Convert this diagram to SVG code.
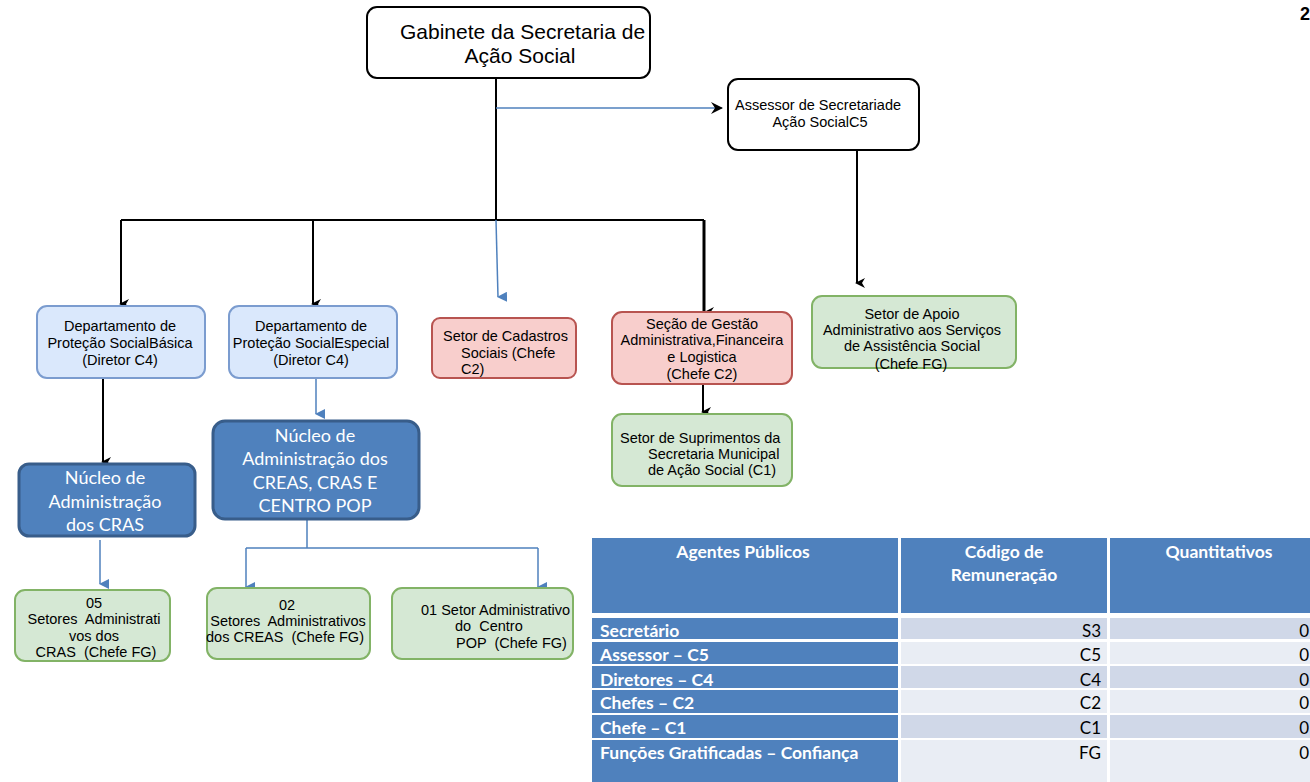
<svg xmlns="http://www.w3.org/2000/svg" width="1310" height="782" viewBox="0 0 1310 782">
<defs>
<marker id="ab" markerWidth="10" markerHeight="10" refX="5" refY="8" orient="auto" markerUnits="userSpaceOnUse" viewBox="0 0 10 10"><path d="M0,0 L5,3 L10,0 L5,10 Z" fill="#000"/></marker>
<marker id="abB" markerWidth="10" markerHeight="10" refX="5" refY="9" orient="auto" markerUnits="userSpaceOnUse" viewBox="0 0 10 10"><path d="M0,0 L10,0 L5,10 Z" fill="#4F81BD"/></marker>
<marker id="abK" markerWidth="12" markerHeight="12" refX="6" refY="10" orient="auto" markerUnits="userSpaceOnUse" viewBox="0 0 12 12"><path d="M0,0 L6,4 L12,0 L6,12 Z" fill="#000"/></marker>
<marker id="ar" markerWidth="12" markerHeight="12" refX="11" refY="6" orient="auto" markerUnits="userSpaceOnUse" viewBox="0 0 12 12"><path d="M0,0 L12,6 L0,12 L4,6 Z" fill="#000"/></marker>
</defs>
<style>
.t{font-family:"Liberation Sans",Arial,sans-serif;font-size:14.5px;fill:#000}
.c{text-anchor:middle}
.blue{fill:#dae8fc;stroke:#7b9ccf;stroke-width:2}
.red{fill:#f8cecc;stroke:#b85450;stroke-width:2}
.green{fill:#d5e8d4;stroke:#82b366;stroke-width:2}
.dark{fill:#4f81bd;stroke:#385d8a;stroke-width:3}
.plain{fill:#fff;stroke:#000;stroke-width:2}
.k{stroke:#000;stroke-width:2;fill:none}
.b{stroke:#4f81bd;stroke-width:1.5;fill:none}
.n{font-family:Lato,"Open Sans",sans-serif;font-size:18px;fill:#fff;text-anchor:middle}
.th{font-family:Lato,"Open Sans",sans-serif;font-size:17.5px;font-weight:bold;fill:#fff}
.tv{font-family:Lato,"Open Sans",sans-serif;font-size:17px;fill:#000;text-anchor:end}
.hd{fill:#4f81bd}
.d1{fill:#d0d8e8}
.d2{fill:#e9edf4}
</style>
<rect width="1310" height="782" fill="#fff"/>
<text x="1300" y="20" style="font-family:'Liberation Sans',sans-serif;font-size:18px;font-weight:bold">2</text>

<g id="connectors">
<path class="k" d="M496,78 V220"/>
<path class="b" d="M496,108 H722" marker-end="url(#ar)"/>
<path class="k" d="M121,220 H704"/>
<path class="k" d="M121,220 V304" marker-end="url(#ab)"/>
<path class="k" d="M313,220 V304" marker-end="url(#ab)"/>
<path class="b" d="M496,220 L498,297" marker-end="url(#abB)"/>
<path class="k" d="M704,220 V313" style="stroke-width:3" marker-end="url(#abK)"/>
<path class="k" d="M857,150 V283" marker-end="url(#ab)"/>
<path class="k" d="M703,384 V412" marker-end="url(#ab)"/>
<path class="k" d="M103,378 V462" marker-end="url(#ab)"/>
<path class="b" d="M316,378 V414" marker-end="url(#abB)"/>
<path class="b" d="M100,540 V584" marker-end="url(#abB)"/>
<path class="b" d="M307,519 V548 M246,548 H538"/>
<path class="b" d="M246,548 V587" marker-end="url(#abB)"/>
<path class="b" d="M538,548 V587" marker-end="url(#abB)"/>
</g>

<g id="gabinete">
<rect class="plain" x="367" y="7" width="283" height="71" rx="10"/>
<text class="t" x="400" y="39" style="font-size:21px">Gabinete da Secretaria de</text>
<text class="t c" x="520" y="63" style="font-size:21px">Ação Social</text>
</g>
<g id="assessor">
<rect class="plain" x="728" y="79" width="191" height="71" rx="10"/>
<text class="t" x="735" y="110">Assessor de Secretariade</text>
<text class="t c" x="820" y="127">Ação SocialC5</text>
</g>
<g id="dept-basica">
<rect class="blue" x="37" y="306" width="168" height="72" rx="10"/>
<text class="t c" x="120" y="331">Departamento de</text>
<text class="t c" x="120" y="348">Proteção SocialBásica</text>
<text class="t c" x="120" y="365">(Diretor C4)</text>
</g>
<g id="dept-especial">
<rect class="blue" x="229" y="306" width="168" height="72" rx="10"/>
<text class="t c" x="311" y="331">Departamento de</text>
<text class="t c" x="311" y="348">Proteção SocialEspecial</text>
<text class="t c" x="311" y="365">(Diretor C4)</text>
</g>
<g id="setor-cadastros">
<rect class="red" x="432" y="318" width="144" height="60" rx="8"/>
<text class="t" x="443" y="341">Setor de Cadastros</text>
<text class="t" x="461" y="358">Sociais (Chefe</text>
<text class="t" x="461" y="374">C2)</text>
</g>
<g id="secao-gestao">
<rect class="red" x="612" y="312" width="180" height="72" rx="10"/>
<text class="t c" x="702" y="329">Seção de Gestão</text>
<text class="t c" x="702" y="345">Administrativa,Financeira</text>
<text class="t c" x="702" y="362">e Logistica</text>
<text class="t c" x="702" y="379">(Chefe C2)</text>
</g>
<g id="setor-apoio">
<rect class="green" x="812" y="296" width="204" height="72" rx="10"/>
<text class="t c" x="912" y="319">Setor de Apoio</text>
<text class="t c" x="912" y="335">Administrativo aos Serviços</text>
<text class="t c" x="912" y="351">de Assistência Social</text>
<text class="t c" x="911" y="369">(Chefe FG)</text>
</g>
<g id="setor-suprimentos">
<rect class="green" x="612" y="414" width="180" height="72" rx="10"/>
<text class="t" x="620" y="443">Setor de Suprimentos da</text>
<text class="t" x="648" y="459">Secretaria Municipal</text>
<text class="t" x="648" y="475">de Ação Social (C1)</text>
</g>
<g id="nucleo-cras">
<rect class="dark" x="19" y="464" width="176" height="72" rx="10"/>
<text class="n" x="105" y="484">Núcleo de</text>
<text class="n" x="105" y="508">Administração</text>
<text class="n" x="105" y="531">dos CRAS</text>
</g>
<g id="nucleo-creas">
<rect class="dark" x="213" y="421" width="206" height="98" rx="12"/>
<text class="n" x="315" y="442">Núcleo de</text>
<text class="n" x="315" y="465">Administração dos</text>
<text class="n" x="315" y="489">CREAS, CRAS E</text>
<text class="n" x="315" y="512">CENTRO POP</text>
</g>
<g id="setores-cras">
<rect class="green" x="15" y="590" width="155" height="71" rx="10"/>
<text class="t c" x="94" y="608">05</text>
<text class="t c" x="94" y="624" style="white-space:pre">Setores  Administrati</text>
<text class="t c" x="94" y="641">vos dos</text>
<text class="t c" x="96" y="657" style="white-space:pre">CRAS  (Chefe FG)</text>
</g>
<g id="setores-creas">
<rect class="green" x="207" y="588" width="163" height="71" rx="10"/>
<text class="t c" x="287" y="610">02</text>
<text class="t c" x="288" y="626" style="white-space:pre">Setores  Administrativos</text>
<text class="t c" x="285" y="642" style="white-space:pre">dos CREAS  (Chefe FG)</text>
</g>
<g id="setor-pop">
<rect class="green" x="392" y="588" width="181" height="71" rx="10"/>
<text class="t" x="421" y="615">01 Setor Administrativo</text>
<text class="t" x="455" y="631" style="white-space:pre">do  Centro</text>
<text class="t" x="456" y="648" style="white-space:pre">POP  (Chefe FG)</text>
</g>

<g id="tabela">
<rect class="hd" x="592" y="538" width="306" height="75"/>
<rect class="hd" x="901" y="538" width="206" height="75"/>
<rect class="hd" x="1110" y="538" width="200" height="75"/>
<text class="th" x="743" y="558" text-anchor="middle">Agentes Públicos</text>
<text class="th" x="1004" y="558" text-anchor="middle">Código de</text>
<text class="th" x="1004" y="581" text-anchor="middle">Remuneração</text>
<text class="th" x="1219" y="558" text-anchor="middle">Quantitativos</text>

<rect class="hd" x="592" y="618" width="306" height="21"/>
<rect class="d1" x="901" y="618" width="206" height="21"/>
<rect class="d1" x="1110" y="618" width="200" height="21"/>
<rect class="hd" x="592" y="642" width="306" height="22"/>
<rect class="d2" x="901" y="642" width="206" height="22"/>
<rect class="d2" x="1110" y="642" width="200" height="22"/>
<rect class="hd" x="592" y="666" width="306" height="22"/>
<rect class="d1" x="901" y="666" width="206" height="22"/>
<rect class="d1" x="1110" y="666" width="200" height="22"/>
<rect class="hd" x="592" y="690" width="306" height="23"/>
<rect class="d2" x="901" y="690" width="206" height="23"/>
<rect class="d2" x="1110" y="690" width="200" height="23"/>
<rect class="hd" x="592" y="715" width="306" height="23"/>
<rect class="d1" x="901" y="715" width="206" height="23"/>
<rect class="d1" x="1110" y="715" width="200" height="23"/>
<rect class="hd" x="592" y="740" width="306" height="42"/>
<rect class="d2" x="901" y="740" width="206" height="42"/>
<rect class="d2" x="1110" y="740" width="200" height="42"/>

<text class="th" x="600" y="637">Secretário</text>
<text class="th" x="600" y="661">Assessor – C5</text>
<text class="th" x="600" y="686">Diretores – C4</text>
<text class="th" x="600" y="709">Chefes – C2</text>
<text class="th" x="600" y="734">Chefe – C1</text>
<text class="th" x="600" y="759">Funções Gratificadas – Confiança</text>

<text class="tv" x="1101" y="637">S3</text>
<text class="tv" x="1101" y="661">C5</text>
<text class="tv" x="1101" y="686">C4</text>
<text class="tv" x="1101" y="709">C2</text>
<text class="tv" x="1101" y="734">C1</text>
<text class="tv" x="1101" y="759">FG</text>
<text class="tv" x="1309" y="637">0</text>
<text class="tv" x="1309" y="661">0</text>
<text class="tv" x="1309" y="686">0</text>
<text class="tv" x="1309" y="709">0</text>
<text class="tv" x="1309" y="734">0</text>
<text class="tv" x="1309" y="759">0</text>
</g>
</svg>
